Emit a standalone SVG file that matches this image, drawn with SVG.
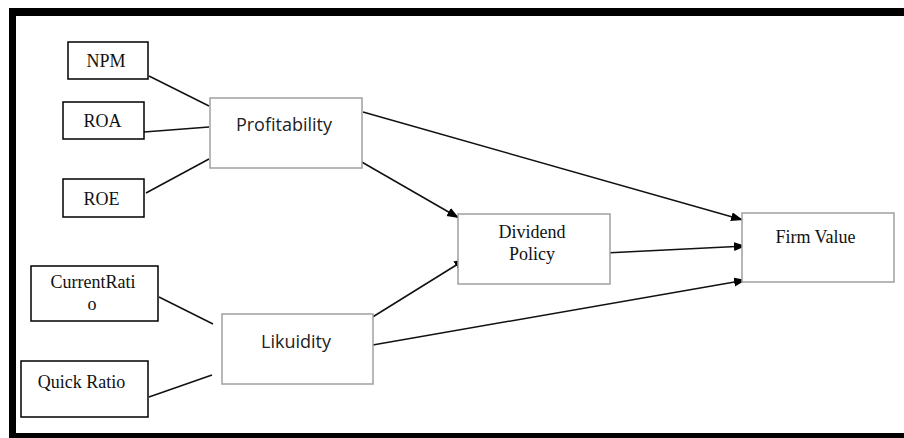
<svg xmlns="http://www.w3.org/2000/svg" width="904" height="438" viewBox="0 0 904 438">
<style>
.ind{fill:#fff;stroke:#000;stroke-width:1.5}
.lat{fill:#fff;stroke:#a0a0a0;stroke-width:1.5}
.st{font-family:"Liberation Serif","Times New Roman",serif;font-size:18px;fill:#111;text-anchor:middle}
.ss{font-family:"Open Sans","Noto Sans",sans-serif;font-size:18px;fill:#222;text-anchor:middle}
.ln{stroke:#111;stroke-width:1.5;fill:none}
.ar{stroke:#111;stroke-width:1.5;fill:none;marker-end:url(#ah)}
</style>
<defs>
<marker id="ah" markerUnits="userSpaceOnUse" markerWidth="13" markerHeight="10" refX="12" refY="4.5" orient="auto">
<path d="M0,0 L12,4.5 L0,9 z" fill="#000"/>
</marker>
</defs>
<rect width="904" height="438" fill="#fff"/>
<g id="frame" fill="#000">
<rect x="9" y="8" width="895" height="8"/>
<rect x="9" y="8" width="7" height="430"/>
<rect x="9" y="433" width="895" height="5"/>
</g>
<g id="connectors">
<line class="ln" x1="149" y1="76" x2="209" y2="106"/>
<line class="ln" x1="144" y1="132" x2="209" y2="127"/>
<line class="ln" x1="146" y1="193" x2="209" y2="159"/>
<line class="ar" x1="363" y1="112" x2="743" y2="220"/>
<line class="ar" x1="360" y1="161" x2="459" y2="218"/>
<line class="ln" x1="159" y1="297" x2="213" y2="324"/>
<line class="ln" x1="149" y1="397" x2="212" y2="375"/>
<line class="ar" x1="371" y1="318" x2="466" y2="259"/>
<line class="ar" x1="367" y1="346" x2="746" y2="280"/>
<line class="ar" x1="605" y1="253" x2="746" y2="246"/>
</g>
<g id="npm"><rect class="ind" x="68" y="42" width="80" height="37"/><text class="st" x="106" y="67">NPM</text></g>
<g id="roa"><rect class="ind" x="63" y="102" width="81" height="37"/><text class="st" x="102.5" y="127">ROA</text></g>
<g id="roe"><rect class="ind" x="63" y="179" width="81" height="38"/><text class="st" x="101.5" y="205">ROE</text></g>
<g id="profitability"><rect class="lat" x="210" y="98" width="152" height="70"/><text class="ss" x="284" y="131">Profitability</text></g>
<g id="currentratio"><rect class="ind" x="31" y="266" width="127" height="55"/><text class="st" x="93" y="288">CurrentRati</text><text class="st" x="92" y="310">o</text></g>
<g id="quickratio"><rect class="ind" x="21" y="361" width="127" height="56"/><text class="st" x="81.5" y="388">Quick Ratio</text></g>
<g id="likuidity"><rect class="lat" x="222" y="314" width="151" height="70"/><text class="ss" x="296" y="348">Likuidity</text></g>
<g id="dividend"><rect class="lat" x="458" y="214" width="152" height="70"/><text class="st" x="532" y="238">Dividend</text><text class="st" x="532" y="260">Policy</text></g>
<g id="firmvalue"><rect class="lat" x="742" y="213" width="152" height="69"/><text class="st" x="815.5" y="243">Firm Value</text></g>
</svg>
